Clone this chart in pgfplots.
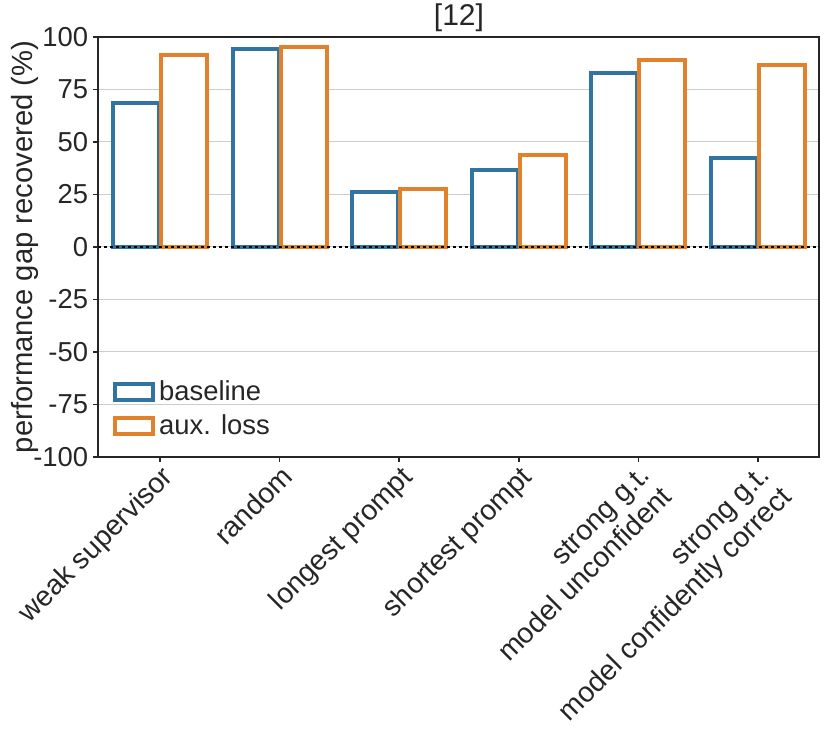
\documentclass[border=0pt]{standalone}
\usepackage{pgfplots}
\pgfplotsset{compat=1.18}
\usepackage{fontspec}
\setmainfont{Liberation Sans}
\definecolor{cblue}{HTML}{3274A1}
\definecolor{corange}{HTML}{E1812C}
\definecolor{txt}{HTML}{262626}
\begin{document}
\begin{tikzpicture}
\path[use as bounding box] (-49.25pt,-140pt) rectangle (366.25pt,228.5pt);
\begin{axis}[
  scale only axis,
  width=360.5pt, height=210pt,
  xmin=-0.515, xmax=5.515,
  ymin=-100, ymax=100,
  xtick={0,1,2,3,4,5},
  xticklabels={weak supervisor, random, longest prompt, shortest prompt, {strong g.t.\\model unconfident}, {strong g.t.\\model confidently correct}},
  ytick={-100,-75,-50,-25,0,25,50,75,100},
  yticklabels={-100,-75,-50,-25,0,25,50,75,100},
  tick pos=left,
  tick align=outside,
  major tick length=2.5pt,
  every tick/.style={black!85, line width=0.8pt},
  axis line style={black!85, line width=1pt},
  ymajorgrids,
  grid style={color=black!20, line width=0.5pt},
  yticklabel style={font=\fontsize{13.7}{16}\selectfont, text=txt, inner sep=2.5pt},
  xticklabel style={font=\fontsize{14.2}{15.5}\selectfont, text=txt, rotate=45, anchor=north east, align=right, inner sep=0.5pt},
  ylabel={performance gap recovered (\%)},
  every axis y label/.style={at={(rel axis cs:-0.102,0.5)}, rotate=90, anchor=center},
  ylabel style={font=\fontsize{14.6}{17}\selectfont, text=txt},
  title={[12]},
  title style={font=\fontsize{15}{17}\selectfont, text=txt, yshift=-7pt},
  legend style={at={(0.017,0.115)}, anchor=west, draw=none, fill=none, font=\fontsize{13.7}{15.5}\selectfont, text=txt, row sep=1.5pt, inner sep=1pt},
  legend cell align=left,
  legend image code/.code={\draw[#1, line width=2pt] (0pt,-4pt) rectangle (19pt,4pt);},
]
\addplot[ybar, bar width=0.385, bar shift=-0.2, draw=cblue, fill=white, line width=2pt] coordinates {(0,68.6) (1,94.5) (2,26.2) (3,36.5) (4,82.9) (5,42.4)};
\addlegendentry{baseline}
\addplot[ybar, bar width=0.385, bar shift=0.2, draw=corange, fill=white, line width=2pt] coordinates {(0,91.3) (1,95.0) (2,27.5) (3,43.7) (4,88.9) (5,86.8)};
\addlegendentry{aux. loss}
\addplot[black, line width=1pt, dash pattern=on 1.5pt off 1.5pt, forget plot] coordinates {(-0.515,0) (5.515,0)};
\end{axis}
\end{tikzpicture}
\end{document}
